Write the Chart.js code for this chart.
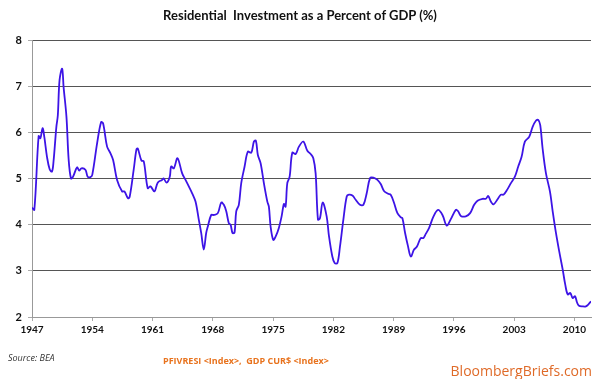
<!DOCTYPE html>
<html>
<head>
<meta charset="utf-8">
<script src="https://cdn.jsdelivr.net/npm/chart.js@4/dist/chart.umd.min.js"></script>
<style>
  body { margin: 0; background: #fff; }
  #wrap { position: relative; width: 600px; height: 379px; }
  canvas { position: absolute; left: 0; top: 0; }
  .txt { position: absolute; white-space: nowrap; }
  #title { left: 0; width: 600px; top: 7px; text-align: center; font: bold 13px Lato, sans-serif; color: #111; }
  #source { left: 8px; top: 351px; font: italic 9px "Open Sans", sans-serif; color: #333; }
  #tickers { left: 163px; top: 354px; font: bold 9px "Open Sans", sans-serif; color: #e8731e; }
  #brand { right: 8px; top: 361px; font: 14px "Open Sans", sans-serif; color: #df6a28; }
</style>
</head>
<body>
<div id="wrap">
  <canvas id="c" width="600" height="379"></canvas>
  <div class="txt" id="title">Residential&nbsp; Investment as a Percent of GDP (%)</div>
  <div class="txt" id="source">Source: BEA</div>
  <div class="txt" id="tickers">PFIVRESI &lt;Index&gt;,&nbsp; GDP CUR$ &lt;Index&gt;</div>
  <div class="txt" id="brand">BloombergBriefs.com</div>
</div>
<script>
// dates as decimal years
const dates = [
  1947.0, 1947.27, 1947.77, 1947.97, 1948.23, 1948.43, 1948.74, 1949.05, 1949.32, 1949.5,
  1949.83, 1950.0, 1950.2, 1950.5, 1950.67, 1951.0, 1951.26, 1951.53, 1951.77, 1952.23,
  1952.5, 1952.73, 1953.2, 1953.47, 1953.78, 1954.0, 1954.56, 1955.02, 1955.26, 1955.72,
  1956.1, 1956.42, 1956.88, 1957.47, 1957.73, 1958.16, 1958.35, 1958.81, 1959.13, 1959.28,
  1959.71, 1959.98, 1960.44, 1960.76, 1961.22, 1961.6, 1962.1, 1962.3, 1962.62, 1963.0,
  1963.16, 1963.47, 1963.9, 1964.44, 1964.83, 1965.21, 1965.6, 1965.99, 1966.37, 1966.65,
  1966.95, 1967.23, 1967.42, 1967.81, 1968.12, 1968.58, 1968.98, 1969.28, 1969.56, 1969.86,
  1970.06, 1970.29, 1970.52, 1970.72, 1971.02, 1971.3, 1971.69, 1972.07, 1972.47, 1972.77,
  1973.0, 1973.23, 1973.55, 1973.93, 1974.33, 1974.51, 1974.71, 1975.02, 1975.29, 1975.67,
  1975.99, 1976.26, 1976.45, 1976.65, 1976.92, 1977.23, 1977.62, 1978.0, 1978.51, 1978.98,
  1979.36, 1979.67, 1979.94, 1980.21, 1980.44, 1980.76, 1981.22, 1981.49, 1981.88, 1982.15,
  1982.47, 1982.77, 1983.16, 1983.55, 1983.81, 1984.21, 1984.59, 1985.09, 1985.49, 1985.87,
  1986.26, 1986.65, 1987.12, 1987.5, 1987.88, 1988.35, 1988.66, 1989.05, 1989.44, 1989.83,
  1990.02, 1990.33, 1990.67, 1990.99, 1991.37, 1991.69, 1992.15, 1992.46, 1992.73, 1993.12,
  1993.63, 1994.16, 1994.67, 1995.17, 1995.64, 1996.22, 1996.49, 1996.8, 1997.38, 1997.88,
  1998.35, 1998.74, 1999.33, 1999.71, 1999.98, 2000.29, 2000.6, 2001.07, 2001.45, 2001.77,
  2002.23, 2002.62, 2003.08, 2003.47, 2003.86, 2004.24, 2004.74, 2005.14, 2005.52, 2005.79,
  2006.02, 2006.3, 2006.69, 2007.15, 2007.47, 2007.85, 2008.23, 2008.63, 2008.93, 2009.21,
  2009.51, 2009.79, 2010.06, 2010.29, 2010.49, 2010.95, 2011.33, 2011.6, 2011.92
];

// residential investment, % of GDP
const resInvPct = [
  4.37, 4.32, 5.92, 5.87, 6.09, 5.90, 5.47, 5.20, 5.15, 5.37,
  6.12, 6.37, 7.13, 7.38, 6.98, 6.34, 5.40, 5.00, 5.04, 5.24,
  5.17, 5.22, 5.19, 5.04, 5.03, 5.08, 5.76, 6.22, 6.19, 5.69,
  5.55, 5.40, 4.97, 4.72, 4.72, 4.57, 4.61, 5.19, 5.63, 5.65,
  5.39, 5.37, 4.79, 4.83, 4.72, 4.91, 4.97, 5.00, 4.91, 5.04,
  5.26, 5.22, 5.44, 5.11, 4.97, 4.83, 4.68, 4.50, 4.11, 3.82,
  3.46, 3.82, 3.96, 4.21, 4.21, 4.25, 4.48, 4.43, 4.29, 4.03,
  4.00, 3.82, 3.83, 4.29, 4.43, 4.90, 5.26, 5.58, 5.56, 5.80,
  5.82, 5.51, 5.33, 4.90, 4.50, 4.39, 3.96, 3.67, 3.74, 3.93,
  4.18, 4.45, 4.39, 4.90, 5.04, 5.56, 5.53, 5.69, 5.80, 5.60,
  5.53, 5.44, 5.11, 4.11, 4.14, 4.48, 4.18, 3.75, 3.31, 3.17,
  3.17, 3.53, 4.11, 4.61, 4.65, 4.63, 4.54, 4.43, 4.43, 4.68,
  5.01, 5.02, 4.97, 4.88, 4.73, 4.67, 4.65, 4.47, 4.25, 4.16,
  4.14, 3.82, 3.53, 3.31, 3.46, 3.52, 3.71, 3.71, 3.80, 3.93,
  4.18, 4.32, 4.21, 3.98, 4.12, 4.32, 4.29, 4.19, 4.18, 4.25,
  4.43, 4.52, 4.56, 4.56, 4.62, 4.50, 4.44, 4.55, 4.65, 4.65,
  4.77, 4.90, 5.04, 5.26, 5.47, 5.80, 5.90, 6.12, 6.25, 6.27,
  6.16, 5.65, 5.11, 4.72, 4.29, 3.82, 3.42, 3.03, 2.70, 2.49,
  2.52, 2.41, 2.45, 2.32, 2.25, 2.23, 2.23, 2.27, 2.34
];

const yearTicks = [1947, 1954, 1961, 1968, 1975, 1982, 1989, 1996, 2003, 2010];
const pctTicks = [2, 3, 4, 5, 6, 7, 8];

const points = dates.map((d, i) => ({ x: d, y: resInvPct[i] }));

new Chart(document.getElementById('c'), {
  type: 'line',
  data: {
    datasets: [{
      data: points,
      borderColor: '#3d14e6',
      borderWidth: 1.8,
      pointRadius: 0,
      tension: 0.35,
      fill: false
    }]
  },
  options: {
    responsive: false,
    animation: false,
    layout: { padding: { top: 40, right: 9, bottom: 44, left: 0 } },
    plugins: { legend: { display: false }, tooltip: { enabled: false } },
    scales: {
      x: {
        type: 'linear',
        min: 1947,
        max: 2011.92,
        afterBuildTicks: (s) => { s.ticks = yearTicks.map(v => ({ value: v })); },
        afterFit: (s) => { s.height = 18; },
        ticks: {
          callback: (v) => String(v),
          color: '#111',
          font: { family: 'Lato', weight: 'bold', size: 10 },
          padding: 3,
          maxRotation: 0,
          autoSkip: false
        },
        grid: { drawOnChartArea: false, drawTicks: true, tickLength: 4, tickColor: '#aaa' },
        border: { color: '#999', width: 1 }
      },
      y: {
        min: 2,
        max: 8,
        afterBuildTicks: (s) => { s.ticks = pctTicks.map(v => ({ value: v })); },
        afterFit: (s) => { s.width = 32; },
        ticks: {
          color: '#111',
          font: { family: 'Lato', weight: 'bold', size: 11 },
          padding: 6
        },
        grid: {
          color: (ctx) => ctx.tick && ctx.tick.value === 2 ? 'rgba(0,0,0,0)' : '#555',
          borderDash: [2, 1],
          tickColor: '#aaa',
          tickBorderDash: [],
          tickLength: 4,
          lineWidth: 1
        },
        border: { color: '#999', width: 1 }
      }
    }
  }
});
</script>
</body>
</html>
